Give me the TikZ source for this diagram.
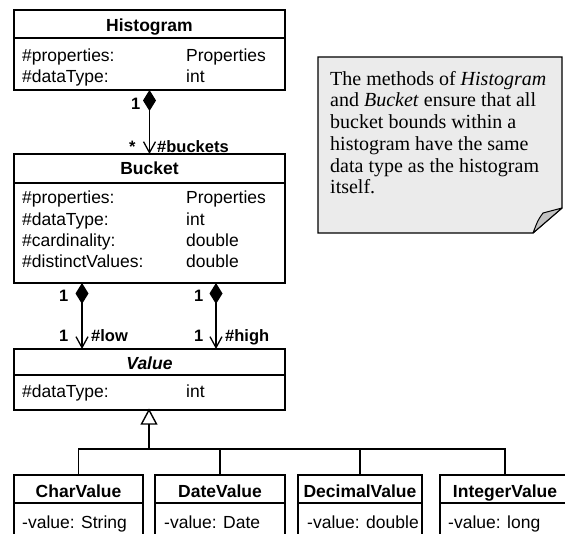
\documentclass[tikz,border=0pt]{standalone}
\usepackage{fontspec}
\setmainfont{Liberation Sans}
\newfontfamily\noteserif{Liberation Serif}
\usetikzlibrary{arrows.meta}
\definecolor{notefill}{HTML}{EBEBEB}
\definecolor{foldfill}{HTML}{C2C2C2}
\tikzset{
  cls/.style={draw, line width=1.3pt, inner sep=0pt, outer sep=0pt, anchor=north west, fill=white},
  attr/.style={anchor=base west, inner sep=0pt, font=\fontsize{17.5}{21}\selectfont},
  ttl/.style={anchor=base, inner sep=0pt, font=\fontsize{17.5}{21}\selectfont\bfseries},
  lbl/.style={anchor=base west, inner sep=0pt, font=\fontsize{16.5}{20}\selectfont\bfseries},
  conn/.style={line width=1.3pt},
  comp/.style={conn, {Straight Barb[length=11pt,width=12pt]}-{Diamond[length=21pt,width=13pt,fill=black]}},
  stem/.style={line width=2pt},
  gentri/.style={line width=1.4pt, fill=white, line join=miter},
}
\begin{document}
\begin{tikzpicture}[x=1pt,y=-1pt]
\useasboundingbox (0,0) rectangle (565,534);
\clip (0,0) rectangle (565,534);
\fill[white] (0,0) rectangle (565,534);

% Histogram
\node[cls, minimum width=271pt, minimum height=28pt] (hist) at (14,10) {};
\node[cls, minimum width=271pt, minimum height=52pt] (histA) at (14,38) {};
\node[ttl] (histT) at (149.5,32) {Histogram};
\node[attr] (h1) at (22,62) {\#properties:};
\node[attr] (h1t) at (186,62) {Properties};
\node[attr] (h2) at (22,83) {\#dataType:};
\node[attr] (h2t) at (186,83) {int};

% Bucket
\node[cls, minimum width=271pt, minimum height=29pt] (buck) at (14,154) {};
\node[cls, minimum width=271pt, minimum height=100pt] (buckA) at (14,183) {};
\node[ttl] (buckT) at (149.5,175) {Bucket};
\node[attr] (b1) at (22,204) {\#properties:};
\node[attr] (b1t) at (186,204) {Properties};
\node[attr] (b2) at (22,225.5) {\#dataType:};
\node[attr] (b2t) at (186,225.5) {int};
\node[attr] (b3) at (22,247) {\#cardinality:};
\node[attr] (b3t) at (186,247) {double};
\node[attr] (b4) at (22,268) {\#distinctValues:};
\node[attr] (b4t) at (186,268) {double};

% Value
\node[cls, minimum width=271pt, minimum height=26pt] (val) at (14,349) {};
\node[cls, minimum width=271pt, minimum height=35pt] (valA) at (14,375) {};
\node[ttl, font=\fontsize{17.5}{21}\selectfont\bfseries\itshape] (valT) at (149.5,370) {Value};
\node[attr] (v1) at (22,398) {\#dataType:};
\node[attr] (v1t) at (186,398) {int};

% Subclasses
\node[cls, minimum width=129pt, minimum height=28pt] (char) at (14,475) {};
\node[cls, minimum width=129pt, minimum height=50pt] (charA) at (14,503) {};
\node[ttl] (charT) at (78.5,497) {CharValue};
\node[attr] (c1) at (22,528) {-value: String};

\node[cls, minimum width=130pt, minimum height=28pt] (date) at (155,475) {};
\node[cls, minimum width=130pt, minimum height=50pt] (dateA) at (155,503) {};
\node[ttl] (dateT) at (220,497) {DateValue};
\node[attr] (d1) at (164,528) {-value: Date};

\node[cls, minimum width=124pt, minimum height=28pt] (dec) at (298,475) {};
\node[cls, minimum width=124pt, minimum height=50pt] (decA) at (298,503) {};
\node[ttl] (decT) at (360,497) {DecimalValue};
\node[attr] (e1) at (307,528) {-value: double};

\node[cls, minimum width=130pt, minimum height=28pt] (int) at (440,475) {};
\node[cls, minimum width=130pt, minimum height=50pt] (intA) at (440,503) {};
\node[ttl] (intT) at (505,497) {IntegerValue};
\node[attr] (i1) at (448,528) {-value: long};

% Compositions
\draw[comp] (buck.north) -- (histA.south);
\node[lbl] (m1) at (131,110) {1};
\node[lbl] (m2) at (129,153) {*};
\node[lbl] (r1) at (157,153) {\#buckets};

\draw[comp] ([xshift=68pt]val.north west) -- ([xshift=68pt]buckA.south west);
\draw[comp] ([xshift=202pt]val.north west) -- ([xshift=202pt]buckA.south west);
\node[lbl] (m3) at (59,302) {1};
\node[lbl] (m4) at (194,302) {1};
\node[lbl] (m5) at (59,342) {1};
\node[lbl] (r2) at (91,342) {\#low};
\node[lbl] (m6) at (194,342) {1};
\node[lbl] (r3) at (225,342) {\#high};

% Generalization
\coordinate (j) at (149,449);
\coordinate (tip) at (valA.south -| j);
\draw[stem] (j) -- ([yshift=-14pt]tip);
\draw[gentri] (tip) -- ++(-7.5,14) -- ++(15,0) -- cycle;
\draw[conn] (char.north) -- (char.north |- j) -- (int.north |- j) -- (int.north);
\draw[conn] (date.north) -- (date.north |- j);
\draw[conn] (dec.north) -- (dec.north |- j);

% Note
\path[draw, fill=notefill, line width=1.2pt] (318,57) -- (562,57) -- (562,208) -- (533,233) -- (318,233) -- cycle;
\path[draw, fill=foldfill, line width=1pt, line join=round] (533,233) -- (562,208) -- (543,213) .. controls (538,220) .. (533,233);
\node[anchor=north west, align=left, inner sep=0pt, font=\noteserif\fontsize{20}{21.7}\selectfont] (note) at (330,71)
 {The methods of \textit{Histogram}\\
  and \textit{Bucket} ensure that all\\
  bucket bounds within a\\
  histogram have the same\\
  data type as the histogram\\
  itself.};
\end{tikzpicture}
\end{document}
